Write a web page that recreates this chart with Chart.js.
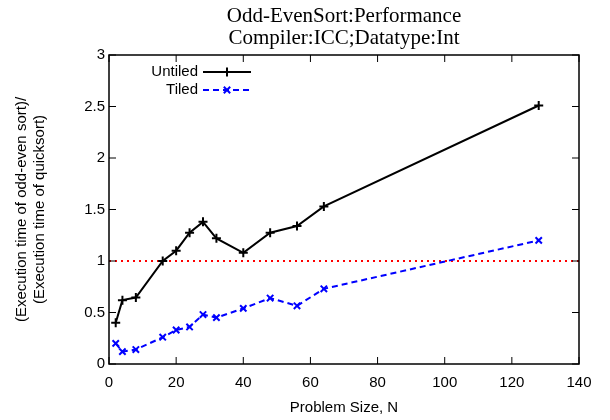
<!DOCTYPE html>
<html>
<head>
<meta charset="utf-8">
<script src="https://cdn.jsdelivr.net/npm/chart.js@4.4.0/dist/chart.umd.min.js"></script>
<style>
  html, body { margin: 0; padding: 0; background: #fff; }
  #wrap { width: 610px; height: 420px; }
</style>
</head>
<body>
<div id="wrap"><canvas id="chart" width="610" height="420"></canvas></div>
<script>
const problemSizes = [2, 4, 8, 16, 20, 24, 28, 32, 40, 48, 56, 64, 128];
const untiled = [0.40, 0.62, 0.645, 1.0, 1.10, 1.275, 1.38, 1.22, 1.08, 1.275, 1.34, 1.53, 2.51];
const tiled = [0.20, 0.12, 0.14, 0.26, 0.33, 0.36, 0.48, 0.45, 0.54, 0.64, 0.565, 0.73, 1.20];
const refLine = [1, 1];
const refX = [0, 140];
const xTicks = [0, 20, 40, 60, 80, 100, 120, 140];
const yTicks = [0, 0.5, 1, 1.5, 2, 2.5, 3];

const titleLines = ['Odd-EvenSort:Performance', 'Compiler:ICC;Datatype:Int'];
const yTitleLines = ['(Execution time of odd-even sort)/', '(Execution time of quicksort)'];
const xTitle = 'Problem Size, N';

const sans = '"Liberation Sans", Arial, sans-serif';
const serif = '"Liberation Serif", "Times New Roman", serif';

function toPoints(xs, ys) {
  return xs.map((x, i) => ({ x: x, y: ys[i] }));
}

// gnuplot-like frame, inward ticks, titles and legend
const framePlugin = {
  id: 'frame',
  afterDraw(chart) {
    const ctx = chart.ctx;
    const a = chart.chartArea;
    const xs = chart.scales.x, ys = chart.scales.y;
    ctx.save();
    ctx.strokeStyle = '#000';
    ctx.lineWidth = 1.5;
    ctx.strokeRect(a.left, a.top, a.right - a.left, a.bottom - a.top);
    ctx.beginPath();
    xTicks.forEach(v => {
      const px = xs.getPixelForValue(v);
      ctx.moveTo(px, a.bottom); ctx.lineTo(px, a.bottom - 7);
      ctx.moveTo(px, a.top); ctx.lineTo(px, a.top + 7);
    });
    yTicks.forEach(v => {
      const py = ys.getPixelForValue(v);
      ctx.moveTo(a.left, py); ctx.lineTo(a.left + 7, py);
      ctx.moveTo(a.right, py); ctx.lineTo(a.right - 7, py);
    });
    ctx.lineWidth = 1;
    ctx.stroke();

    const cx = (a.left + a.right) / 2;
    ctx.fillStyle = '#000';
    ctx.textAlign = 'center';
    ctx.textBaseline = 'alphabetic';
    ctx.font = '21px ' + serif;
    ctx.fillText(titleLines[0], cx, 22);
    ctx.fillText(titleLines[1], cx, 44);

    ctx.font = '15px ' + sans;
    ctx.textBaseline = 'middle';
    ctx.fillText(xTitle, cx, 408);

    ctx.save();
    ctx.translate(22, (a.top + a.bottom) / 2);
    ctx.rotate(-Math.PI / 2);
    ctx.fillText(yTitleLines[0], 0, 0);
    ctx.fillText(yTitleLines[1], 0, 18);
    ctx.restore();

    // legend
    const items = [
      { label: 'Untiled', color: '#000', dash: [], style: 'cross', y: 72 },
      { label: 'Tiled', color: '#0000ff', dash: [6, 4], style: 'crossRot', y: 90 }
    ];
    items.forEach(it => {
      ctx.fillStyle = '#000';
      ctx.textAlign = 'right';
      ctx.fillText(it.label, 198, it.y);
      ctx.strokeStyle = it.color;
      ctx.lineWidth = 2;
      ctx.setLineDash(it.dash);
      ctx.beginPath();
      ctx.moveTo(203, it.y); ctx.lineTo(251, it.y);
      ctx.stroke();
      ctx.setLineDash([]);
      Chart.helpers.drawPoint(ctx, { pointStyle: it.style, radius: 4.5, borderWidth: 2 }, 227, it.y);
    });
    ctx.restore();
  }
};

new Chart(document.getElementById('chart'), {
  type: 'line',
  data: {
    datasets: [
      {
        label: 'ref',
        data: toPoints(refX, refLine),
        borderColor: '#ff0000',
        borderWidth: 2,
        borderDash: [2, 4],
        pointRadius: 0,
        order: 3
      },
      {
        label: 'Untiled',
        data: toPoints(problemSizes, untiled),
        borderColor: '#000',
        backgroundColor: '#000',
        borderWidth: 2,
        pointStyle: 'cross',
        pointRadius: 4.5,
        pointBorderWidth: 2,
        order: 1
      },
      {
        label: 'Tiled',
        data: toPoints(problemSizes, tiled),
        borderColor: '#0000ff',
        backgroundColor: '#0000ff',
        borderWidth: 2,
        borderDash: [6, 4],
        pointStyle: 'crossRot',
        pointRadius: 4.5,
        pointBorderWidth: 2,
        order: 2
      }
    ]
  },
  options: {
    responsive: false,
    animation: false,
    layout: { padding: { top: 55, right: 31, left: 0, bottom: 0 } },
    plugins: {
      legend: { display: false },
      title: { display: false },
      tooltip: { enabled: false }
    },
    scales: {
      x: {
        type: 'linear',
        min: 0, max: 140,
        afterBuildTicks: s => { s.ticks = xTicks.map(v => ({ value: v })); },
        afterFit: s => { s.height = 56; },
        grid: { display: false, drawTicks: false },
        border: { display: false },
        ticks: { color: '#000', font: { family: sans, size: 15 }, padding: 10, maxRotation: 0, callback: v => String(v) }
      },
      y: {
        type: 'linear',
        min: 0, max: 3,
        afterBuildTicks: s => { s.ticks = yTicks.map(v => ({ value: v })); },
        afterFit: s => { s.width = 109; },
        grid: { display: false, drawTicks: false },
        border: { display: false },
        ticks: { color: '#000', font: { family: sans, size: 15 }, padding: 4, callback: v => String(v) }
      }
    }
  },
  plugins: [framePlugin]
});
</script>
</body>
</html>
